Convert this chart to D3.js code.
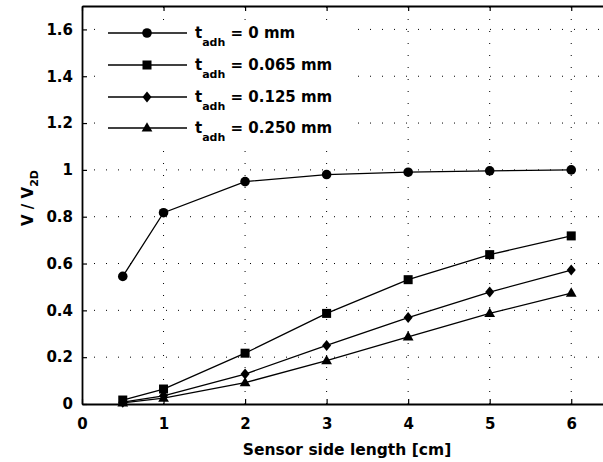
<!DOCTYPE html>
<html lang="en">
<head>
<meta charset="UTF-8">
<title>V / V2D vs sensor side length</title>
<script src="https://cdnjs.cloudflare.com/ajax/libs/d3/7.8.5/d3.min.js"></script>
<style>
  body { margin: 0; background: #fff; }
  svg text { font-family: "DejaVu Sans", "Liberation Sans", Arial, sans-serif; font-weight: bold; fill: #000; }
</style>
</head>
<body>
<div id="chart"></div>
<script>
// sensor side lengths [cm]
var sideLength = [0.5, 1, 2, 3, 4, 5, 6];
// V / V2D for each adhesive thickness
var t0 = [0.545, 0.817, 0.950, 0.980, 0.990, 0.996, 1.000];
var t065 = [0.017, 0.064, 0.217, 0.387, 0.531, 0.638, 0.718];
var t125 = [0.008, 0.035, 0.128, 0.250, 0.369, 0.478, 0.572];
var t250 = [0.005, 0.025, 0.091, 0.185, 0.287, 0.387, 0.474];
var seriesNames = ["0 mm", "0.065 mm", "0.125 mm", "0.250 mm"];
var seriesMarkers = ["circle", "square", "diamond", "triangle"];
var xTicks = [0, 1, 2, 3, 4, 5, 6];
var yTicks = [0, 0.2, 0.4, 0.6, 0.8, 1, 1.2, 1.4, 1.6];

var W = 603, H = 462;
var pLeft = 82, pTop = 6, pRight = 612, pBottom = 404;

var svg = d3.select("#chart").append("svg")
  .attr("width", W).attr("height", H);

var x = d3.scaleLinear().domain([0, 6.5]).range([pLeft, pRight]);
var y = d3.scaleLinear().domain([0, 1.7]).range([pBottom, pTop]);

// dotted grid
var grid = svg.append("g").attr("stroke", "#000").attr("stroke-width", 1)
  .attr("stroke-dasharray", "1,11");
xTicks.slice(1).forEach(function(t) {
  grid.append("line").attr("x1", x(t)).attr("x2", x(t))
    .attr("y1", pBottom).attr("y2", pTop);
});
yTicks.slice(1).forEach(function(t) {
  grid.append("line").attr("x1", pLeft).attr("x2", pRight)
    .attr("y1", y(t)).attr("y2", y(t));
});

// axes
var xAxis = d3.axisBottom(x).tickValues(xTicks).tickSizeInner(-5).tickSizeOuter(0)
  .tickPadding(14).tickFormat(d3.format("d"));
var yAxis = d3.axisLeft(y).tickValues(yTicks).tickSizeInner(-5).tickSizeOuter(0)
  .tickPadding(9).tickFormat(function(d) { return String(+d.toFixed(1)); });

var gx = svg.append("g").attr("transform", "translate(0," + pBottom + ")").call(xAxis);
var gy = svg.append("g").attr("transform", "translate(" + pLeft + ",0)").call(yAxis);
var gTop = svg.append("g").attr("transform", "translate(0," + pTop + ")")
  .call(d3.axisTop(x).tickValues(xTicks).tickSizeInner(-5).tickSizeOuter(0).tickFormat(""));

[gx, gy, gTop].forEach(function(g) {
  g.select(".domain").attr("stroke", "#000").attr("stroke-width", 1.8);
  g.selectAll(".tick line").attr("stroke", "#000").attr("stroke-width", 1.2);
  g.selectAll("text").attr("font-size", 15).attr("font-family", null);
});

// markers
function marker(g, type, cx, cy) {
  if (type === "circle") {
    g.append("circle").attr("cx", cx).attr("cy", cy).attr("r", 4.8);
  } else if (type === "square") {
    g.append("rect").attr("x", cx - 4.5).attr("y", cy - 4.5).attr("width", 9).attr("height", 9);
  } else if (type === "diamond") {
    g.append("path").attr("d", "M" + cx + "," + (cy - 5.5) + "L" + (cx + 4.5) + "," + cy +
      "L" + cx + "," + (cy + 5.5) + "L" + (cx - 4.5) + "," + cy + "Z");
  } else {
    g.append("path").attr("d", d3.symbol().type(d3.symbolTriangle).size(50)())
      .attr("transform", "translate(" + cx + "," + (cy + 0.5) + ")");
  }
}

var line = d3.line().x(function(d) { return x(d[0]); }).y(function(d) { return y(d[1]); });
[t0, t065, t125, t250].forEach(function(vals, i) {
  var pts = sideLength.map(function(s, j) { return [s, vals[j]]; });
  var g = svg.append("g");
  g.append("path").attr("d", line(pts)).attr("fill", "none")
    .attr("stroke", "#000").attr("stroke-width", 1.3);
  var mg = g.append("g").attr("fill", "#000");
  pts.forEach(function(p) { marker(mg, seriesMarkers[i], x(p[0]), y(p[1])); });
});

// legend
var legRowY = [33, 65, 97, 128];
seriesNames.forEach(function(name, i) {
  var ly = legRowY[i];
  var lg = svg.append("g");
  lg.append("rect").attr("x", 100).attr("y", ly - 13).attr("width", 250).attr("height", 29).attr("fill", "#fff");
  lg.append("line").attr("x1", 108).attr("x2", 187).attr("y1", ly).attr("y2", ly)
    .attr("stroke", "#000").attr("stroke-width", 1.3);
  marker(lg.append("g").attr("fill", "#000"), seriesMarkers[i], 147, ly);
  var t = lg.append("text").attr("x", 195).attr("y", ly + 5).attr("font-size", 15);
  t.append("tspan").text("t");
  t.append("tspan").attr("font-size", 11).attr("dy", 8).text("adh");
  t.append("tspan").attr("dy", -8).text(" = " + name);
});

// axis titles
svg.append("text").attr("x", (pLeft + pRight) / 2).attr("y", 455)
  .attr("text-anchor", "middle").attr("font-size", 15.5).text("Sensor side length [cm]");

var yl = svg.append("text").attr("transform", "translate(33,198) rotate(-90)")
  .attr("text-anchor", "middle").attr("font-size", 15);
yl.append("tspan").text("V / V");
yl.append("tspan").attr("font-size", 11).attr("dy", 5).text("2D");
</script>
</body>
</html>
